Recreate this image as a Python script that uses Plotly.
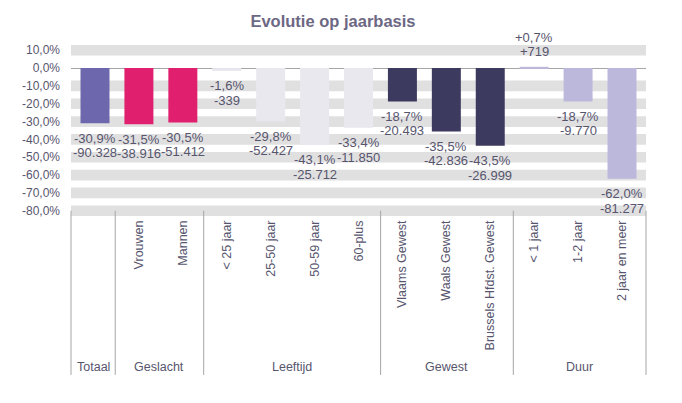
import plotly.graph_objects as go

# data
categories = ['Totaal', 'Vrouwen', 'Mannen', '< 25 jaar', '25-50 jaar', '50-59 jaar', '60-plus',
              'Vlaams Gewest', 'Waals Gewest', 'Brussels Hfdst. Gewest',
              '< 1 jaar', '1-2 jaar', '2 jaar en meer']
tick_labels = ['', 'Vrouwen', 'Mannen', '< 25 jaar', '25-50 jaar', '50-59 jaar', '60-plus',
               'Vlaams Gewest', 'Waals Gewest', 'Brussels Hfdst. Gewest',
               '< 1 jaar', '1-2 jaar', '2 jaar en meer']
pct_change = [-30.9, -31.5, -30.5, -1.6, -29.8, -43.1, -33.4, -18.7, -35.5, -43.5, 0.7, -18.7, -62.0]
abs_change = [-90328, -38916, -51412, -339, -52427, -25712, -11850, -20493, -42836, -26999, 719, -9770, -81277]
groups = ['Totaal', 'Geslacht', 'Leeftijd', 'Gewest', 'Duur']
group_sizes = [1, 2, 4, 3, 3]
y_ticks = [10, 0, -10, -20, -30, -40, -50, -60, -70, -80]

group_colors = {'Totaal': '#6d68ad', 'Geslacht': '#e0206f', 'Leeftijd': '#e9e8ee',
                'Gewest': '#3c3a5f', 'Duur': '#bcb8dc'}

TEXT = '#57556e'
FONT = 'Liberation Sans, Arial, sans-serif'

# colour per bar from its group
bar_colors = []
for g, size in zip(groups, group_sizes):
    bar_colors += [group_colors[g]] * size

def fmt_pct(v):
    s = f'{v:+.1f}'.replace('.', ',')
    return s if v > 0 else s.replace('+', '')

def fmt_abs(v):
    s = f'{v:+,}'.replace(',', '.')
    return s if v > 0 else s.replace('+', '')

fig = go.Figure()
fig.add_trace(go.Bar(
    x=categories, y=pct_change, marker=dict(color=bar_colors, line=dict(width=0)),
    width=0.66, hoverinfo='skip'))

# thick grey grid bands (no band at zero)
shapes = []
for v in y_ticks:
    if v == 0:
        continue
    shapes.append(dict(type='rect', xref='paper', yref='y', x0=0, x1=1, y0=v - 3, y1=v + 3,
                       fillcolor='#e0e0e0', line=dict(width=0), layer='below'))

# group dividers under the axis
n = len(categories)
bounds = [0]
for s in group_sizes:
    bounds.append(bounds[-1] + s)
for b in bounds:
    shapes.append(dict(type='line', xref='paper', yref='paper', x0=b / n, x1=b / n,
                       y0=0.036, y1=-0.913, line=dict(color='#a6a6a6', width=1)))

annotations = []
for g, lo, hi in zip(groups, bounds[:-1], bounds[1:]):
    annotations.append(dict(xref='paper', yref='paper', x=(lo + hi) / 2 / n, y=-0.867,
                            text=g, showarrow=False, xanchor='center', yanchor='middle',
                            font=dict(family=FONT, size=12.5, color=TEXT)))

# two-line data labels (percentage, then absolute change) at the bar end
for c, p, a in zip(categories, pct_change, abs_change):
    sign = 1 if p > 0 else -1
    first, second = (fmt_abs(a), fmt_pct(p) + '%') if p > 0 else (fmt_pct(p) + '%', fmt_abs(a))
    for txt, off in ((first, 15), (second, 29.5)):
        annotations.append(dict(x=c, y=p, text=txt, showarrow=False, xanchor='center',
                                yanchor='middle', yshift=sign * off,
                                font=dict(family=FONT, size=13, color=TEXT)))

# page body adds an 8px offset, margins are set to compensate
fig.update_layout(
    width=682, height=403,
    margin=dict(l=63, r=44, t=36, b=194),
    paper_bgcolor='white', plot_bgcolor='white',
    showlegend=False,
    title=dict(text='<b>Evolutie op jaarbasis</b>', x=0.4765, xanchor='center', y=0.968, yanchor='middle',
               font=dict(family=FONT, size=16.5, color='#6c6884')),
    shapes=shapes, annotations=annotations,
    xaxis=dict(tickmode='array', tickvals=categories, ticktext=tick_labels, tickangle=-90,
               showgrid=False, showline=False, ticks='', zeroline=False,
               tickfont=dict(family=FONT, size=12.5, color=TEXT)),
    yaxis=dict(range=[-83.5, 13.5], tickmode='array', tickvals=y_ticks,
               ticktext=[fmt_pct(v).replace('+', '') + '%' for v in y_ticks],
               showgrid=False, zeroline=True, zerolinecolor='#a6a6a6', zerolinewidth=1,
               ticklabelstandoff=10, tickfont=dict(family=FONT, size=12, color=TEXT)),
)

fig.write_html('out.html')
